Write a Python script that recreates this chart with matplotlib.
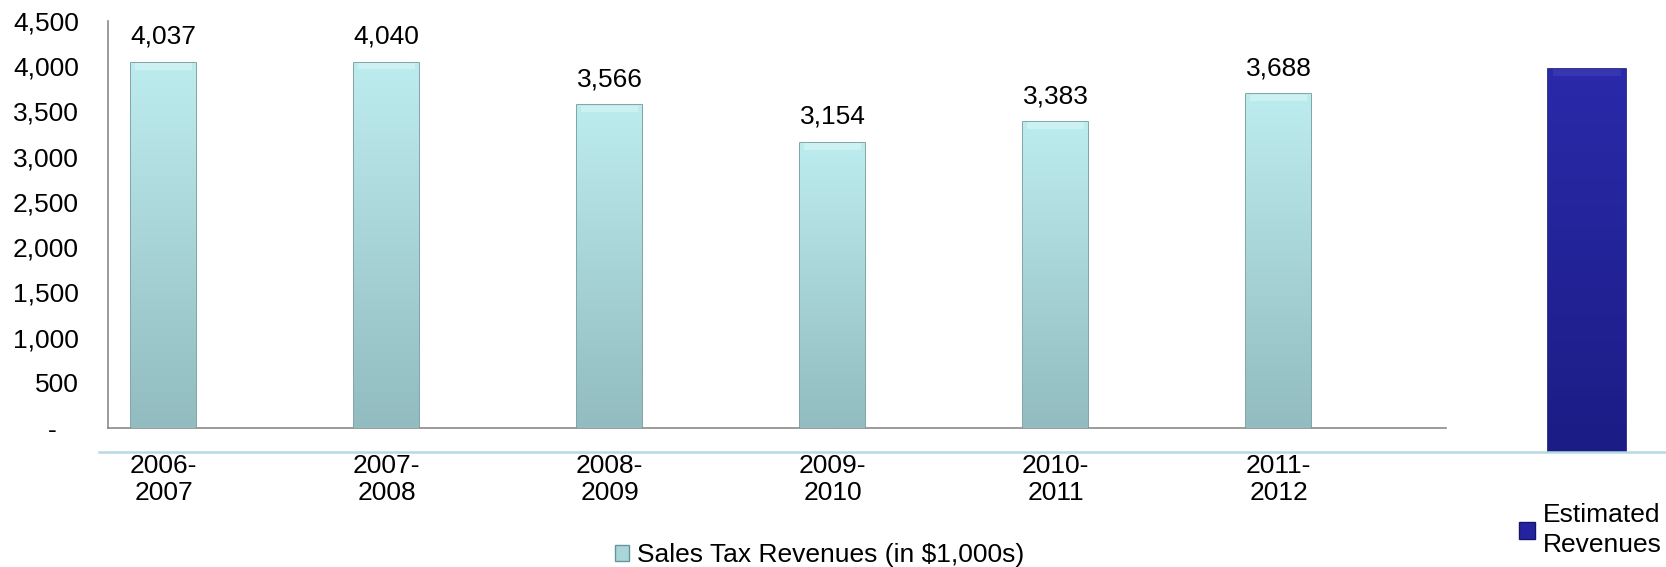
import matplotlib
matplotlib.use("Agg")
import matplotlib.pyplot as plt
import numpy as np
from matplotlib.colors import LinearSegmentedColormap
from matplotlib.patches import Patch

# data
years = ["2006-\n2007", "2007-\n2008", "2008-\n2009", "2009-\n2010", "2010-\n2011", "2011-\n2012"]
sales_tax = [4037, 4040, 3566, 3154, 3383, 3688]
estimated = [4000]
y_ticks = [0, 500, 1000, 1500, 2000, 2500, 3000, 3500, 4000, 4500]
y_ticklabels = ["-   ", "500", "1,000", "1,500", "2,000", "2,500", "3,000", "3,500", "4,000", "4,500"]

plt.rcParams["font.family"] = ["Liberation Sans", "DejaVu Sans"]
FS = 19

light_cmap = LinearSegmentedColormap.from_list("light", ["#92bcbf", "#bdecef"])
dark_cmap = LinearSegmentedColormap.from_list("dark", ["#1c1c86", "#2a2aaa"])


def gradient_bars(ax, bars, cmap, hilite):
    grad = np.linspace(0, 1, 256).reshape(-1, 1)
    for b in bars:
        x0, w, h = b.get_x(), b.get_width(), b.get_height()
        im = ax.imshow(grad, extent=(x0, x0 + w, 0, h), origin="lower",
                       cmap=cmap, aspect="auto", zorder=b.get_zorder())
        im.set_clip_path(b)
        b.set_facecolor("none")
        # bevel highlight along the top edge
        ax.bar(x0 + w / 2, 70, bottom=h - 75, width=w * 0.88, color=hilite,
               alpha=0.4, linewidth=0, zorder=b.get_zorder() + 0.1)


fig = plt.figure(figsize=(16.66, 5.67), dpi=100)

# secondary series: sits on its own baseline off to the right
ax2 = fig.add_axes([99 / 1666, 1 - 452 / 567, 1 - 99 / 1666, (452 - 21) / 567])
n = len(years) + 1
bars2 = ax2.bar([n - 1], estimated, width=0.32, color="#2424a0",
                edgecolor="#15156a", linewidth=1.2, zorder=3)
gradient_bars(ax2, bars2, dark_cmap, "#4a4ac0")
ax2.set_xlim(-0.123, n - 1 + 0.325)
ax2.set_ylim(0, 4500)
for s in ["top", "right", "left"]:
    ax2.spines[s].set_visible(False)
ax2.spines["bottom"].set_color("#b5dbe1")
ax2.spines["bottom"].set_linewidth(1.8)
ax2.spines["bottom"].set_zorder(5)
ax2.set_xticks([])
ax2.set_yticks([])
ax2.patch.set_alpha(0)

# primary series
ax = fig.add_axes([108 / 1666, 1 - 428 / 567, (1446 - 108) / 1666, (428 - 21) / 567])
x = np.arange(len(years))
bars = ax.bar(x, sales_tax, width=0.29, color="#a8d6d9",
              edgecolor="#6a9598", linewidth=1.2, zorder=3)
gradient_bars(ax, bars, light_cmap, "#e6fbfc")
for xi, v in zip(x, sales_tax):
    ax.annotate(f"{v:,}", (xi, v), xytext=(0, 10), textcoords="offset points",
                ha="center", va="bottom", fontsize=FS)
ax.set_xlim(-0.25, len(years) - 0.25)
ax.set_ylim(0, 4500)
ax.set_yticks(y_ticks)
ax.set_yticklabels(y_ticklabels, fontsize=FS)
ax.set_xticks(x)
ax.set_xticklabels(years, fontsize=FS, linespacing=1.15)
ax.tick_params(axis="y", length=0, pad=21)
ax.tick_params(axis="x", length=0, pad=19)
for s in ["top", "right"]:
    ax.spines[s].set_visible(False)
for s in ["left", "bottom"]:
    ax.spines[s].set_color("#8a8a8a")
    ax.spines[s].set_linewidth(1.2)
ax.patch.set_alpha(0)

fig.legend(handles=[Patch(facecolor="#a8d6d9", edgecolor="#6a9598",
                          label="Sales Tax Revenues (in $1,000s)")],
           loc="center", bbox_to_anchor=(0.492, 0.021), frameon=False,
           fontsize=FS, handlelength=0.55, handleheight=0.55, handletextpad=0.3)
leg2 = fig.legend(handles=[Patch(facecolor="#2424a0", edgecolor="#15156a",
                                 label="Estimated\nRevenues")],
                  loc="center left", bbox_to_anchor=(1495 / 1666, 1 - 530 / 567),
                  frameon=False, fontsize=FS, handlelength=0.6, handleheight=0.6,
                  handletextpad=0.3)
for t in leg2.get_texts():
    t.set_linespacing(1.3)

fig.savefig("out.png", dpi=100)
